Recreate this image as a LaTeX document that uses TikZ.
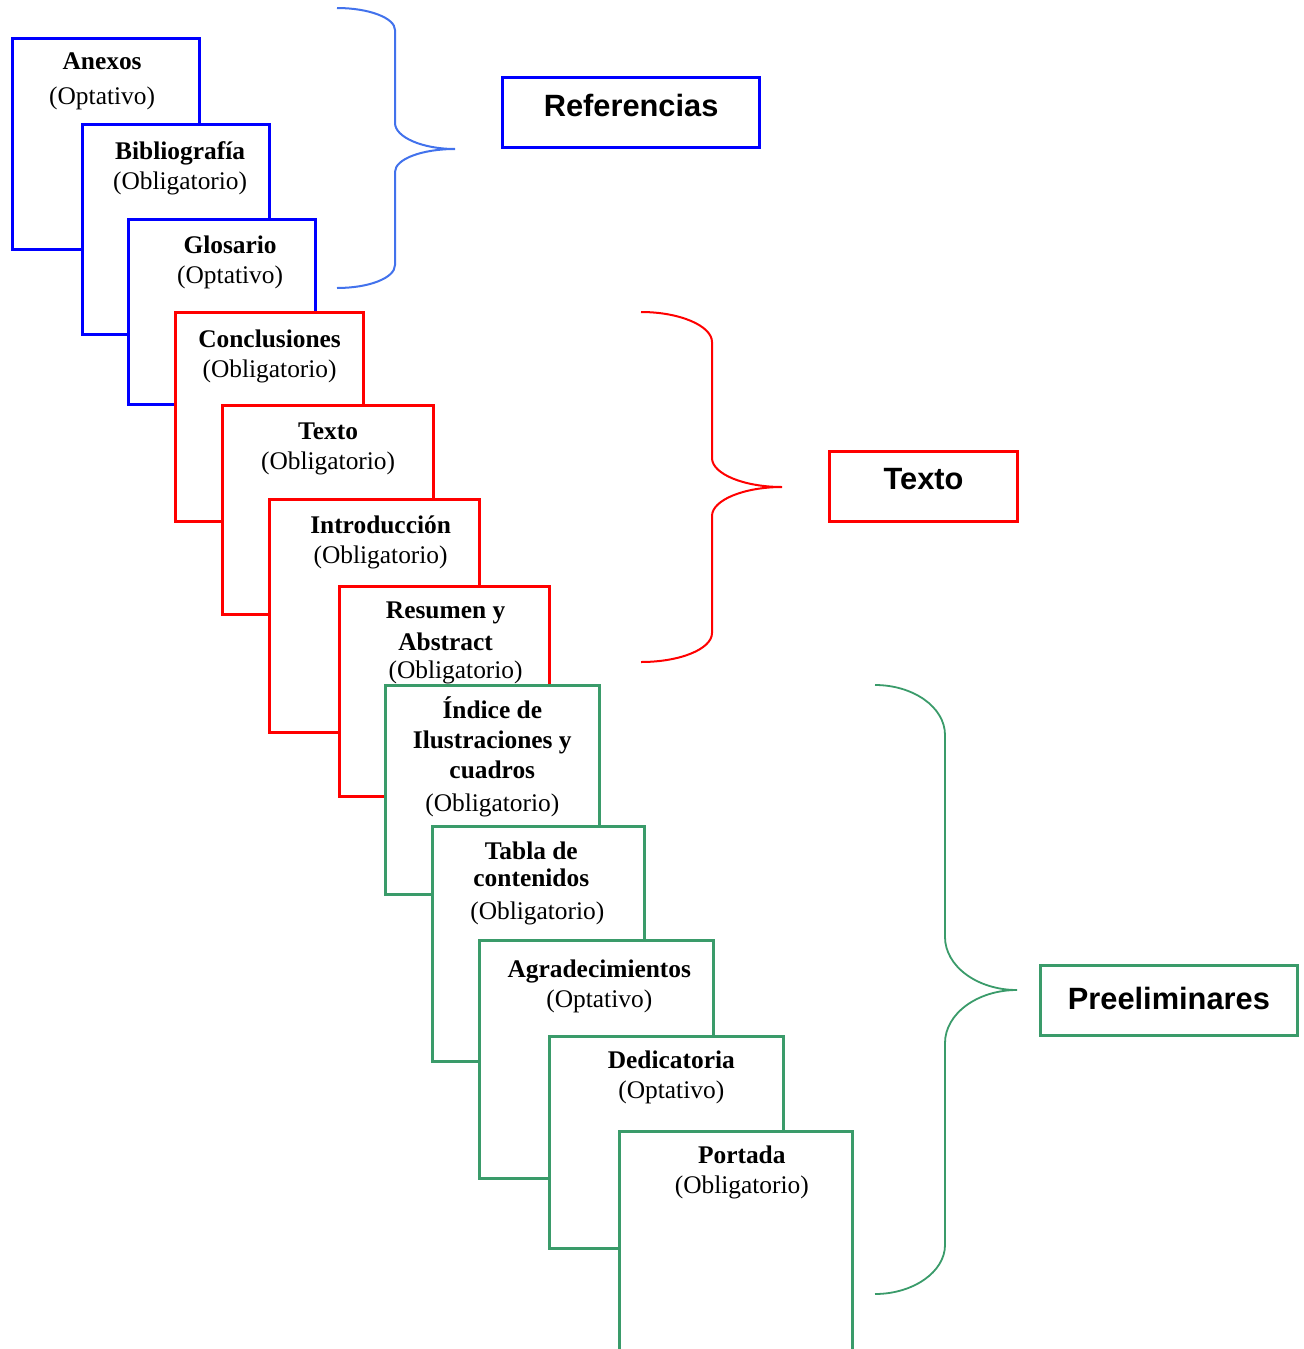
\documentclass[tikz,border=0pt]{standalone}
\usepackage{fontspec}
\setmainfont{Liberation Serif}
\newfontfamily\arial{Liberation Sans}
\usetikzlibrary{positioning}
\definecolor{azul}{RGB}{0,0,255}
\definecolor{azulllave}{RGB}{66,114,236}
\definecolor{rojo}{RGB}{255,0,0}
\definecolor{verde}{RGB}{58,155,106}
\newcommand{\alto}{\rule{0pt}{12pt}}

\begin{document}
\begin{tikzpicture}[x=0.5pt, y=-0.5pt,
        hoja/.style={rectangle, fill=white, inner sep=0pt, anchor=north west},
        hojaazul/.style={hoja, draw=azul, line width=1.6pt},
        hojaroja/.style={hoja, draw=rojo, line width=1.6pt},
        hojaverde/.style={hoja, draw=verde, line width=1.3pt},
        rotulo/.style={align=center, inner sep=0pt, font=\fontsize{12.7}{15}\selectfont},
        seccion/.style={rectangle, line width=1.6pt, inner sep=0pt, anchor=north west, minimum height=35pt,
            text height=11.5pt, text depth=8pt, font=\arial\bfseries\fontsize{15.4}{18}\selectfont}]
        \useasboundingbox (0,0) rectangle (1304,1349);

        \node[hojaazul, minimum width=93.5pt, minimum height=105.5pt] (anexos) at (11,37) {};
        \node[rotulo, below=4pt of anexos.north, xshift=-2pt] (anexosT) {\alto\textbf{Anexos}\\[2.5pt](Optativo)};
        \node[hojaazul, minimum width=93.5pt, minimum height=105pt] (biblio) at (81,123) {};
        \node[rotulo, below=6pt of biblio.north, xshift=2pt] (biblioT) {\alto\textbf{Bibliografía}\\(Obligatorio)};
        \node[hojaazul, minimum width=93.5pt, minimum height=92.5pt] (glosario) at (127,218) {};
        \node[rotulo, below=5.5pt of glosario.north, xshift=4pt] (glosarioT) {\alto\textbf{Glosario}\\(Optativo)};

        \node[hojaroja, minimum width=94pt, minimum height=104.5pt] (conclusiones) at (174,311) {};
        \node[rotulo, below=6pt of conclusiones.north] (conclusionesT) {\alto\textbf{Conclusiones}\\(Obligatorio)};
        \node[hojaroja, minimum width=105.5pt, minimum height=104.5pt] (texto) at (221,404) {};
        \node[rotulo, below=5.5pt of texto.north] (textoT) {\alto\textbf{Texto}\\(Obligatorio)};
        \node[hojaroja, minimum width=105pt, minimum height=116.5pt] (intro) at (268,498) {};
        \node[rotulo, below=5.5pt of intro.north, xshift=3pt] (introT) {\alto\textbf{Introducción}\\(Obligatorio)};
        \node[hojaroja, minimum width=105pt, minimum height=105pt] (resumen) at (338,585) {};
        \node[rotulo, below=4.5pt of resumen.north, xshift=0.5pt] (resumenT) {\alto\textbf{Resumen y}\\[1pt]\textbf{Abstract}\\[-1pt]\hspace*{10pt}(Obligatorio)};

        \node[hojaverde, minimum width=107pt, minimum height=104.5pt] (indice) at (384,684) {};
        \node[rotulo, below=5pt of indice.north] (indiceT) {\alto\textbf{Índice de}\\\textbf{Ilustraciones y}\\\textbf{cuadros}\\[1.5pt](Obligatorio)};
        \node[hojaverde, minimum width=106pt, minimum height=117.5pt] (tabla) at (431,825) {};
        \node[rotulo, below=5pt of tabla.north, xshift=-3.5pt] (tablaT) {\alto\textbf{Tabla de}\\[-1.5pt]\textbf{contenidos}\\[1.5pt]\hspace*{6pt}(Obligatorio)};
        \node[hojaverde, minimum width=117pt, minimum height=119pt] (agradec) at (478,939) {};
        \node[rotulo, below=7pt of agradec.north, xshift=1.5pt] (agradecT) {\alto\textbf{Agradecimientos}\\(Optativo)};
        \node[hojaverde, minimum width=117pt, minimum height=106pt] (dedicatoria) at (548,1035) {};
        \node[rotulo, below=4.5pt of dedicatoria.north, xshift=2.5pt] (dedicatoriaT) {\alto\textbf{Dedicatoria}\\(Optativo)};
        \node[hojaverde, minimum width=116.5pt, minimum height=120pt] (portada) at (618,1130) {};
        \node[rotulo, below=4.5pt of portada.north, xshift=3pt] (portadaT) {\alto\textbf{Portada}\\(Obligatorio)};

        \draw[azulllave, line width=1pt] (337,8) .. controls (369,8) and (395,18) .. (395,30) -- (395,123)
            .. controls (395,137) and (422,149) .. (455,149) .. controls (422,149) and (395,159) .. (395,172)
            -- (395,265) .. controls (395,278) and (369,288) .. (337,288);
        \draw[rojo, line width=1pt] (641,312) .. controls (680,312) and (712,326) .. (712,342) -- (712,458)
            .. controls (712,474) and (744,487) .. (782,487) .. controls (744,487) and (712,500) .. (712,516)
            -- (712,633) .. controls (712,649) and (680,662) .. (641,662);
        \draw[verde, line width=0.9pt] (875,685) .. controls (913,685) and (945,707) .. (945,735) -- (945,937)
            .. controls (945,966) and (977,990) .. (1017,990) .. controls (977,990) and (945,1014) .. (945,1043)
            -- (945,1245) .. controls (945,1272) and (913,1294) .. (875,1294);

        \node[seccion, draw=azul, minimum width=128.5pt] (referencias) at (501,76) {Referencias};
        \node[seccion, draw=rojo, minimum width=94pt, text depth=9pt] (textoS) at (828,450) {Texto};
        \node[seccion, draw=verde, line width=1.4pt, minimum width=128.5pt, text depth=2pt] (preliminares) at (1039,964) {Preeliminares};
    \end{tikzpicture}
\end{document}
